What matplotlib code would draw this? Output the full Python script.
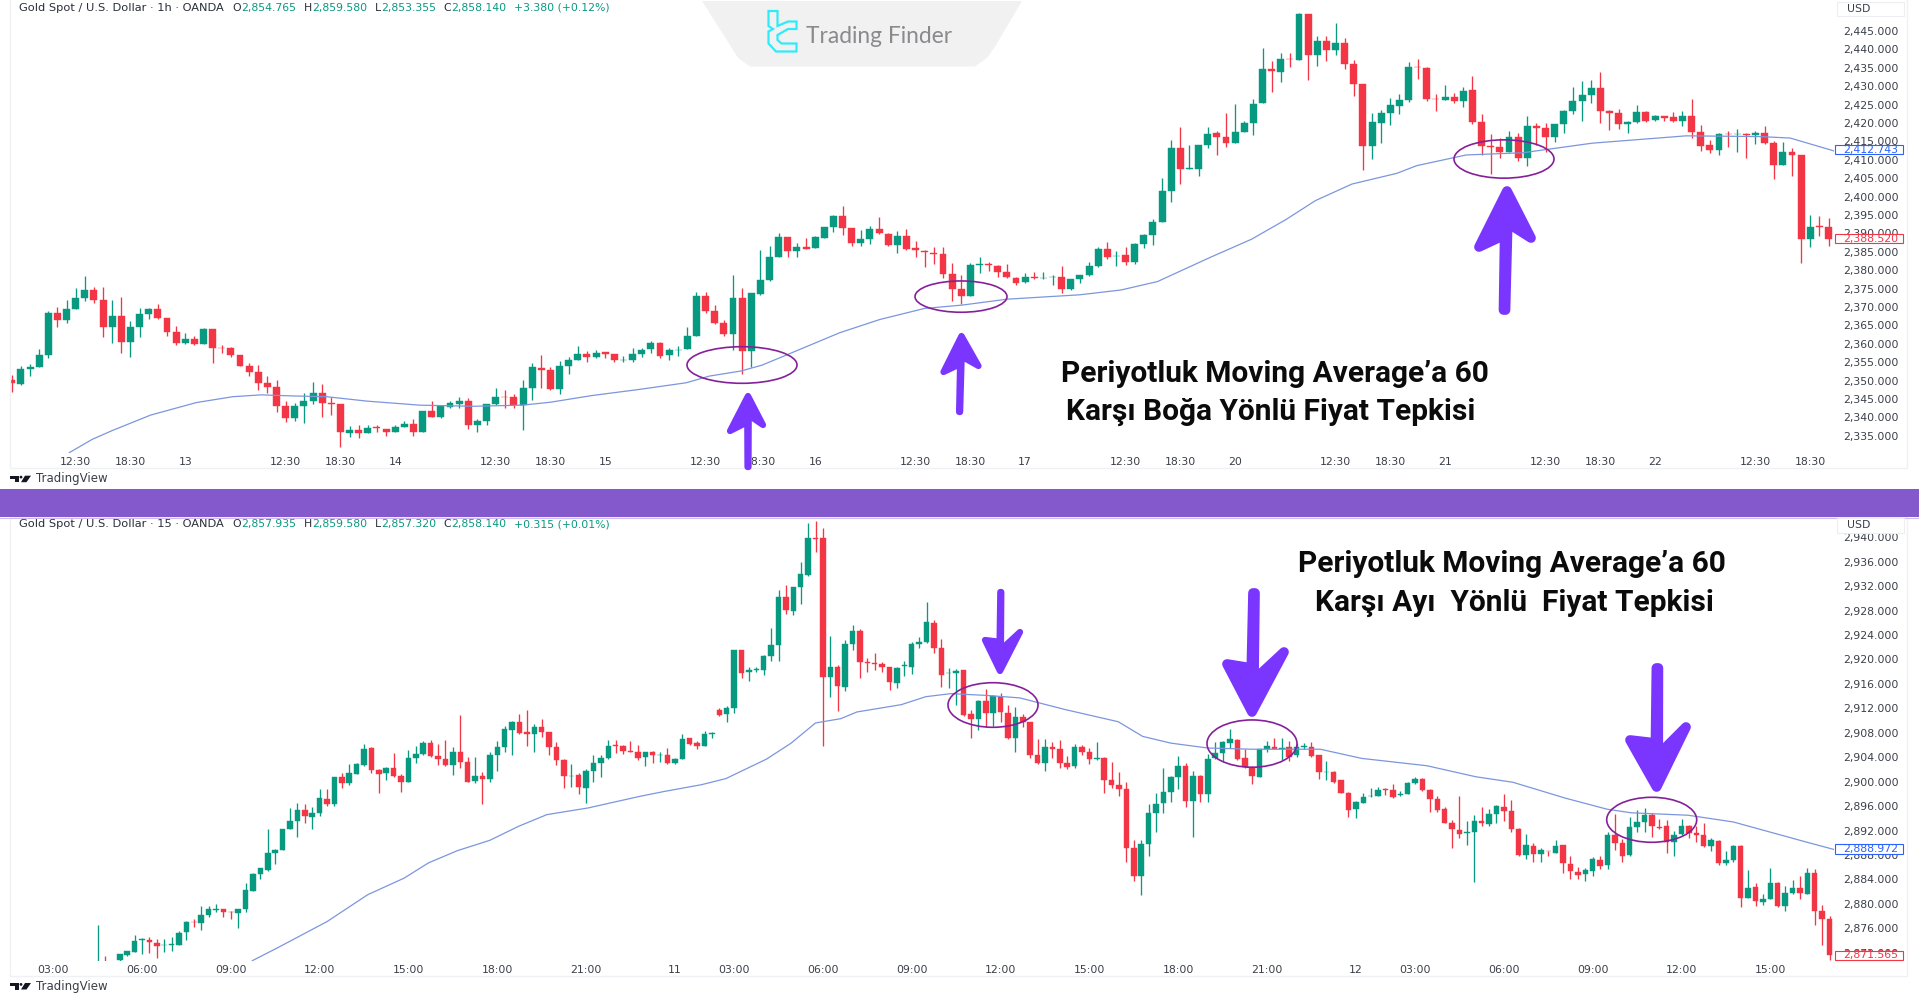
import matplotlib
matplotlib.use("Agg")
import matplotlib.pyplot as plt
from matplotlib.patches import Ellipse, Polygon, Rectangle, Circle

W, H = 1919, 996
GREEN = "#089981"
RED = "#F23645"
MA_COLOR = "#7C96DE"
ARROW = "#7A35FF"
RING = "#86209A"

# 1h chart, read candle by candle off the picture
open_1h = [2350.2,2349.1,2353.1,2353.8,2356.8,2368.4,2366.4,2369.5,2372.4,2374.6,2371.9,2364.6,2367.4,2360.4,2364.6,2368.0,2369.4,2367.1,2363.2,2360.1,
 2361.3,2360.0,2363.9,2358.9,2358.8,2356.9,2354.0,2352.3,2349.4,2348.3,2343.0,2339.8,2343.0,2344.3,2346.7,2343.8,2343.5,2335.8,2336.5,2335.8,
 2337.3,2336.8,2335.9,2337.5,2338.1,2336.0,2341.7,2340.2,2342.8,2343.7,2344.5,2338.0,2338.9,2343.5,2345.6,2345.4,2343.3,2348.0,2353.5,2352.9,
 2347.7,2353.9,2355.6,2357.1,2356.3,2357.7,2357.2,2355.6,2355.6,2357.1,2358.5,2360.1,2356.8,2358.3,2358.5,2362.1,2373.0,2369.0,2365.6,2362.6,
 2372.4,2357.9,2373.5,2377.3,2383.5,2389.0,2385.2,2386.2,2385.9,2388.8,2391.6,2394.7,2391.4,2387.3,2388.4,2391.2,2389.9,2386.8,2389.2,2385.9,
 2385.2,2384.6,2384.4,2379.0,2374.9,2373.1,2381.4,2381.7,2381.2,2379.5,2377.9,2376.7,2378.1,2377.8,2378.1,2378.0,2374.8,2377.7,2378.6,2381.1,
 2385.7,2383.8,2384.0,2382.2,2387.1,2389.6,2393.1,2401.5,2413.1,2407.6,2407.6,2414.0,2417.2,2416.2,2414.5,2417.6,2420.1,2425.3,2434.6,2433.9,
 2437.4,2437.1,2449.5,2438.6,2442.2,2439.9,2441.6,2436.1,2430.6,2413.7,2420.1,2422.7,2424.7,2426.2,2435.3,2435.0,2426.6,2426.3,2427.1,2426.0,
 2428.9,2420.3,2413.7,2413.5,2412.1,2416.2,2410.6,2419.2,2418.6,2416.2,2419.6,2423.3,2426.0,2427.6,2429.5,2423.3,2422.7,2419.8,2420.2,2423.1,
 2420.7,2421.8,2421.5,2420.4,2421.8,2417.6,2413.9,2412.7,2417.1,2417.0,2417.0,2416.8,2417.2,2414.6,2408.6,2412.1,2411.4,2388.4,2391.9,2391.6]
high_1h = [2351.5,2353.9,2354.4,2358.5,2369.0,2370.1,2371.9,2375.2,2378.4,2375.5,2375.5,2371.9,2372.8,2366.1,2369.7,2369.7,2370.7,2367.1,2364.7,2362.9,
 2362.2,2364.2,2363.9,2359.7,2359.2,2356.9,2354.7,2354.2,2351.1,2350.2,2344.3,2343.8,2346.5,2349.5,2349.1,2345.6,2343.5,2337.7,2337.8,2337.8,
 2338.0,2336.8,2338.0,2339.1,2339.5,2341.8,2344.3,2343.2,2344.5,2345.6,2345.2,2339.5,2343.6,2348.0,2347.3,2346.2,2350.2,2354.7,2356.9,2353.6,
 2355.2,2356.3,2359.4,2357.9,2358.3,2357.8,2357.3,2356.7,2358.8,2358.8,2360.8,2360.6,2358.8,2359.4,2364.6,2374.1,2374.1,2370.6,2366.5,2378.8,
 2375.1,2373.7,2385.5,2386.6,2390.0,2389.1,2387.3,2388.7,2389.3,2391.8,2394.9,2397.3,2391.5,2390.9,2392.0,2394.4,2390.2,2390.6,2391.1,2387.8,
 2385.5,2386.4,2386.2,2382.0,2378.8,2382.0,2383.7,2382.2,2381.5,2381.7,2378.2,2379.1,2379.6,2379.5,2378.7,2381.0,2377.7,2378.8,2382.2,2386.2,
 2387.6,2385.3,2386.2,2387.3,2389.8,2393.8,2405.0,2415.4,2419.0,2414.1,2414.1,2419.0,2417.9,2422.6,2425.2,2420.4,2426.4,2440.5,2436.9,2438.9,
 2438.9,2450.0,2449.5,2443.6,2443.6,2447.1,2443.1,2437.1,2430.6,2422.6,2423.5,2426.8,2427.9,2436.6,2437.3,2435.1,2427.9,2430.4,2428.2,2429.7,
 2432.9,2422.4,2417.0,2415.8,2417.8,2417.2,2422.0,2419.9,2420.1,2419.7,2423.5,2429.7,2431.4,2431.7,2433.9,2423.5,2423.7,2420.5,2424.8,2423.2,
 2422.1,2422.0,2423.1,2423.2,2426.4,2419.4,2415.4,2417.2,2417.9,2418.3,2417.4,2417.9,2419.2,2415.2,2414.9,2413.1,2411.4,2395.1,2394.7,2394.2]
low_1h = [2347.0,2348.8,2351.1,2353.8,2356.0,2364.6,2365.7,2369.5,2371.6,2371.2,2361.7,2360.1,2357.6,2356.5,2361.7,2366.7,2366.6,2362.1,2359.6,2359.9,
 2359.7,2359.8,2354.7,2357.6,2356.3,2353.9,2351.1,2347.3,2346.5,2341.5,2338.8,2339.1,2338.4,2343.5,2340.2,2340.6,2332.0,2334.6,2334.5,2335.7,
 2335.9,2335.0,2335.9,2337.4,2334.8,2336.0,2340.0,2339.7,2342.5,2342.5,2336.7,2336.0,2337.8,2343.4,2342.5,2342.4,2336.6,2344.7,2347.9,2347.3,
 2346.3,2351.8,2355.6,2355.0,2356.1,2356.2,2355.0,2354.9,2354.9,2356.5,2357.6,2356.0,2355.6,2356.7,2358.5,2362.1,2368.3,2365.4,2362.0,2358.3,
 2351.8,2353.8,2373.3,2377.1,2383.5,2383.7,2383.7,2385.7,2385.9,2388.7,2390.3,2389.6,2386.6,2386.6,2387.0,2389.8,2386.6,2384.6,2385.5,2383.7,
 2380.8,2381.6,2377.9,2371.5,2370.8,2373.1,2379.1,2379.9,2378.2,2377.8,2376.0,2376.4,2377.6,2377.5,2376.0,2373.9,2374.6,2376.6,2378.4,2380.8,
 2382.9,2381.2,2381.5,2381.7,2385.9,2386.8,2393.1,2398.6,2403.4,2407.4,2405.6,2413.3,2411.3,2413.4,2414.5,2417.6,2416.6,2425.3,2428.5,2431.0,
 2435.1,2437.1,2431.7,2435.5,2436.8,2438.5,2434.6,2427.4,2407.2,2410.3,2414.5,2419.4,2422.4,2425.8,2431.9,2426.1,2423.2,2426.2,2425.3,2424.3,
 2419.6,2411.3,2406.1,2410.6,2412.1,2409.7,2408.4,2414.0,2412.2,2414.9,2417.2,2422.4,2420.4,2425.5,2419.9,2418.1,2418.3,2417.4,2419.9,2420.3,
 2420.6,2420.4,2420.2,2419.3,2415.8,2412.4,2411.9,2411.3,2413.6,2412.2,2410.6,2414.3,2414.2,2404.7,2408.6,2405.7,2382.0,2386.4,2389.3,2386.6]
close_1h = [2349.3,2353.1,2353.8,2356.9,2368.4,2366.4,2369.4,2372.4,2374.6,2371.9,2364.6,2367.4,2360.4,2364.6,2368.0,2369.5,2367.1,2363.3,2360.2,2361.4,
 2360.0,2363.9,2358.9,2358.8,2356.9,2354.0,2352.4,2349.4,2348.3,2343.0,2339.8,2343.0,2344.3,2346.7,2343.8,2343.5,2335.9,2336.6,2335.8,2337.0,
 2337.2,2335.9,2337.4,2338.2,2336.0,2341.7,2340.2,2343.0,2343.8,2344.5,2338.0,2339.0,2343.5,2345.4,2345.5,2343.3,2347.9,2353.6,2352.8,2347.6,
 2353.9,2355.6,2357.2,2356.4,2357.6,2357.3,2355.6,2355.7,2357.1,2358.3,2360.1,2356.7,2358.2,2358.4,2362.0,2373.0,2369.0,2365.6,2362.6,2372.4,
 2357.9,2373.7,2377.3,2383.5,2389.1,2385.1,2386.2,2385.8,2388.9,2391.6,2394.7,2391.5,2387.3,2388.5,2391.2,2390.0,2386.8,2389.2,2385.8,2385.4,
 2384.8,2384.5,2379.0,2375.0,2373.1,2381.3,2381.7,2381.3,2379.5,2378.0,2376.6,2378.1,2377.8,2377.9,2378.2,2374.8,2377.5,2378.6,2381.1,2385.7,
 2383.6,2383.9,2382.2,2387.1,2389.6,2393.1,2401.4,2413.2,2407.6,2407.7,2413.9,2417.1,2416.3,2414.5,2417.6,2420.1,2425.2,2434.6,2434.0,2437.3,
 2437.3,2449.5,2438.6,2442.2,2439.9,2441.6,2436.0,2430.5,2413.7,2420.2,2422.7,2424.8,2426.2,2435.1,2435.2,2426.5,2426.5,2427.1,2426.0,2428.8,
 2420.3,2413.8,2413.6,2412.1,2416.1,2410.6,2419.2,2418.5,2416.2,2419.6,2423.3,2426.0,2427.6,2429.5,2423.3,2422.8,2419.8,2420.3,2423.1,2420.6,
 2421.8,2421.4,2420.4,2421.8,2417.6,2413.8,2412.7,2417.0,2417.0,2417.1,2416.7,2417.2,2414.5,2408.6,2412.1,2411.4,2388.4,2391.8,2391.8,2388.5]

ma_bar_1h = [6.3,8.8,11.0,15.2,20.2,24.2,27.3,30.9,34.5,38.9,44.7,50.5,55.9,59.0,63.5,68.8,73.9,76.4,79.9,82.2,85.3,90.7,95.1,100.0,104.1,109.0,117.0,121.5,125.5,
 131.3,135.8,139.6,142.8,146.8,151.7,153.9,159.3,165.5,173.1,183.4,191.5,194.8,199.6]
ma_1h = [2330.4,2334.0,2336.4,2340.6,2344.0,2345.6,2346.1,2345.8,2345.6,2344.4,2343.3,2343.0,2343.3,2344.1,2345.9,2347.6,2349.4,2351.2,2352.6,2354.2,2357.4,2363.0,2366.6,2369.6,2370.5,2372.1,2373.3,2374.6,2376.9,
 2383.5,2388.4,2393.8,2398.9,2403.4,2406.3,2408.4,2411.3,2411.9,2414.5,2416.5,2416.3,2415.9,2412.4]

ticks_1h = [7,13,19,30,36,42,53,59,65,76,82,88,99,105,111,122,128,134,145,151,157,168,174,180,191,197]
labels_1h = ["12:30","18:30","13","12:30","18:30","14","12:30","18:30","15","12:30","18:30","16","12:30","18:30","17","12:30","18:30","20","12:30","18:30","21","12:30","18:30","22","12:30","18:30"]
prices_1h = list(range(2335, 2450, 5))
ma_last_1h = 2412.743
close_last_1h = 2388.520

# 15m chart
open_15 = [2869.6,2870.2,2869.5,2870.8,2871.7,2872.2,2874.1,2874.1,2873.6,2873.2,2873.3,2873.3,2875.4,2877.1,2876.9,2878.2,2879.0,2879.1,2878.7,2878.5,
 2879.1,2882.1,2884.9,2885.6,2888.4,2888.8,2892.3,2893.6,2895.3,2894.2,2894.9,2897.2,2896.3,2900.8,2899.7,2901.3,2902.8,2905.5,2901.9,2901.4,
 2902.3,2901.0,2900.0,2903.9,2904.5,2906.3,2904.2,2903.7,2902.8,2904.9,2903.2,2900.1,2900.9,2900.5,2904.4,2905.6,2908.5,2909.8,2908.2,2907.8,
 2908.9,2908.1,2905.6,2903.5,2900.9,2901.1,2899.0,2901.7,2903.1,2903.8,2906.0,2905.9,2905.0,2904.9,2904.1,2904.8,2904.3,2904.4,2903.0,2903.7,
 2907.1,2906.3,2905.9,2907.8,2911.8,2911.0,2912.0,2921.5,2917.9,2918.2,2918.3,2920.5,2922.4,2930.2,2928.0,2931.8,2933.8,2939.8,2939.8,2917.1,
 2918.7,2915.5,2922.5,2924.7,2919.5,2919.4,2919.3,2918.8,2916.2,2919.0,2918.8,2922.5,2922.8,2926.0,2921.9,2917.7,2917.8,2918.2,2911.0,2910.2,
 2913.2,2911.3,2913.8,2911.3,2907.2,2910.5,2909.8,2904.3,2903.0,2905.7,2905.4,2903.1,2902.5,2905.6,2904.9,2903.7,2903.8,2900.3,2899.5,2898.8,
 2889.1,2884.6,2889.8,2894.8,2896.5,2898.3,2900.8,2902.6,2896.8,2900.9,2898.0,2903.8,2904.7,2906.3,2906.8,2903.8,2902.3,2900.8,2905.3,2905.6,
 2905.4,2905.6,2904.3,2905.6,2905.7,2904.3,2901.5,2901.6,2900.2,2898.2,2895.5,2896.5,2897.6,2897.7,2898.8,2898.6,2897.8,2897.9,2899.7,2900.4,
 2898.6,2897.2,2895.5,2893.3,2892.1,2891.6,2891.8,2893.6,2893.0,2894.7,2895.8,2895.2,2892.3,2888.0,2889.4,2888.1,2888.7,2888.4,2889.6,2886.6,
 2885.2,2884.9,2885.3,2887.2,2886.3,2891.2,2890.0,2888.0,2892.5,2893.4,2894.6,2892.5,2892.8,2890.2,2891.4,2892.8,2891.6,2891.2,2889.4,2890.3,
 2886.7,2887.1,2889.5,2881.0,2882.7,2880.3,2880.8,2883.4,2879.7,2881.7,2882.6,2881.6,2885.0,2878.8,2877.5]
high_15 = [2876.6,2871.5,2870.3,2871.8,2872.3,2874.9,2874.4,2874.5,2874.3,2874.3,2874.6,2875.6,2877.2,2877.5,2879.6,2879.6,2879.9,2879.1,2878.9,2879.1,
 2883.4,2885.0,2885.9,2892.2,2889.0,2892.3,2895.7,2896.5,2896.4,2895.8,2898.8,2898.8,2900.8,2901.4,2902.9,2903.1,2906.2,2905.7,2902.0,2902.4,
 2904.7,2901.3,2905.2,2905.8,2906.6,2906.8,2906.2,2906.8,2905.6,2910.9,2904.1,2904.0,2901.6,2904.9,2906.7,2909.1,2909.9,2911.1,2911.8,2909.5,
 2910.3,2908.2,2906.5,2903.7,2902.9,2901.4,2902.0,2904.3,2904.4,2906.8,2906.8,2906.0,2906.6,2906.0,2904.9,2905.0,2904.8,2905.5,2903.9,2907.8,
 2907.1,2906.7,2908.3,2908.2,2912.1,2912.4,2921.6,2921.5,2918.8,2918.8,2920.7,2925.1,2931.4,2932.2,2931.9,2936.0,2942.4,2942.7,2941.5,2923.9,
 2919.1,2923.2,2925.7,2924.9,2920.2,2921.0,2919.5,2918.8,2918.7,2919.7,2922.9,2923.7,2929.4,2926.4,2923.4,2918.6,2918.4,2918.3,2911.7,2913.4,
 2915.1,2914.1,2914.5,2912.6,2912.2,2911.0,2909.8,2906.9,2907.0,2906.5,2906.8,2904.2,2906.2,2906.0,2905.5,2906.5,2904.1,2903.2,2901.5,2900.0,
 2890.4,2890.5,2896.3,2898.2,2902.2,2900.9,2904.2,2903.1,2901.8,2901.1,2904.5,2906.5,2906.7,2908.6,2906.9,2905.3,2902.6,2905.4,2906.6,2907.1,
 2907.1,2906.6,2906.3,2906.3,2906.5,2904.4,2903.4,2901.8,2900.3,2898.3,2896.9,2898.1,2898.9,2899.2,2898.9,2899.6,2898.5,2899.9,2900.7,2900.6,
 2898.8,2897.6,2895.8,2893.7,2897.6,2893.6,2894.5,2895.8,2895.5,2896.2,2897.9,2897.0,2892.4,2891.4,2889.9,2889.1,2888.7,2890.4,2889.7,2887.9,
 2886.0,2885.8,2887.6,2887.9,2891.7,2894.7,2890.6,2894.2,2895.4,2895.7,2894.9,2893.9,2893.7,2892.0,2893.9,2892.9,2892.8,2893.3,2890.8,2890.5,
 2888.6,2889.6,2889.6,2885.6,2883.4,2881.6,2885.8,2883.5,2883.0,2883.9,2884.5,2885.8,2885.7,2879.8,2878.0]
low_15 = [2869.0,2869.5,2869.0,2870.7,2871.4,2872.2,2871.8,2871.9,2871.1,2872.2,2872.3,2873.2,2874.1,2876.2,2875.8,2877.8,2878.7,2877.8,2877.5,2876.1,
 2878.7,2882.1,2884.0,2885.4,2886.6,2888.8,2892.2,2891.0,2893.3,2892.2,2894.3,2896.0,2896.0,2899.0,2899.4,2901.3,2902.5,2901.4,2898.1,2900.3,
 2900.8,2898.3,2899.9,2903.1,2904.4,2904.0,2902.7,2902.6,2901.1,2902.3,2899.9,2899.8,2896.3,2899.9,2901.7,2904.8,2904.4,2907.8,2905.9,2904.8,
 2907.3,2904.3,2902.8,2899.0,2899.2,2898.0,2896.5,2900.0,2900.7,2903.7,2904.7,2904.5,2904.8,2903.6,2902.5,2903.1,2903.2,2902.9,2902.9,2903.7,
 2906.0,2905.4,2905.8,2907.1,2910.8,2909.7,2911.3,2917.0,2916.4,2918.0,2917.5,2919.8,2919.7,2927.4,2927.3,2929.1,2933.7,2937.6,2905.9,2913.8,
 2911.6,2914.9,2921.5,2917.0,2918.0,2918.3,2917.9,2915.0,2915.3,2917.3,2917.6,2921.8,2922.7,2921.0,2915.5,2915.3,2912.6,2910.7,2907.2,2908.4,
 2908.9,2909.1,2909.8,2907.0,2904.9,2908.9,2903.8,2902.9,2901.8,2903.8,2902.2,2902.0,2902.2,2904.4,2902.9,2903.6,2898.1,2899.0,2897.7,2886.8,
 2883.7,2881.5,2887.9,2891.7,2894.8,2896.6,2898.8,2895.9,2890.9,2896.6,2896.7,2903.7,2903.3,2905.5,2903.5,2902.2,2899.6,2900.8,2904.8,2905.3,
 2903.5,2903.3,2904.1,2905.3,2904.1,2900.5,2900.3,2899.7,2898.1,2894.2,2894.0,2896.5,2897.5,2897.7,2897.8,2897.3,2897.6,2897.9,2899.6,2898.4,
 2895.1,2895.1,2893.2,2889.2,2890.8,2889.6,2883.5,2892.7,2892.7,2893.3,2893.6,2891.8,2887.9,2887.3,2886.9,2886.8,2887.8,2888.3,2885.1,2884.0,
 2884.0,2883.8,2884.6,2885.7,2885.7,2888.8,2886.8,2887.8,2891.7,2891.7,2890.9,2892.3,2888.4,2887.9,2891.2,2890.7,2890.2,2889.3,2888.7,2886.4,
 2886.3,2886.8,2879.5,2880.9,2879.7,2879.8,2880.8,2879.5,2878.9,2881.6,2880.8,2881.6,2876.5,2873.2,2870.8]
close_15 = [2869.8,2869.9,2869.3,2871.8,2872.3,2873.9,2874.2,2873.7,2873.1,2873.3,2873.4,2875.3,2877.1,2877.0,2878.2,2879.1,2879.1,2878.6,2878.6,2879.1,
 2882.2,2884.9,2885.8,2888.4,2888.8,2892.2,2893.6,2895.4,2894.3,2894.9,2897.3,2896.4,2900.8,2899.7,2901.4,2902.9,2905.4,2901.9,2901.3,2902.2,
 2900.9,2900.0,2903.9,2904.6,2906.4,2904.2,2903.7,2902.8,2904.9,2903.2,2900.0,2900.9,2900.5,2904.4,2905.7,2908.6,2909.8,2908.0,2907.8,2908.9,
 2908.1,2905.7,2903.5,2900.9,2901.0,2899.1,2901.7,2903.1,2903.8,2905.9,2905.9,2905.0,2904.9,2903.9,2904.8,2904.3,2904.4,2903.0,2903.7,2907.0,
 2906.2,2905.9,2907.8,2907.9,2910.9,2912.0,2921.5,2917.7,2918.2,2918.4,2920.6,2922.4,2930.2,2928.1,2931.8,2933.9,2939.8,2939.7,2917.2,2918.7,
 2915.6,2922.5,2924.6,2919.5,2919.4,2919.2,2918.7,2916.3,2918.6,2919.1,2922.5,2922.8,2926.1,2921.9,2917.5,2917.8,2918.1,2910.9,2910.2,2913.2,
 2911.3,2914.0,2911.4,2907.2,2910.5,2909.8,2904.3,2903.0,2905.7,2905.3,2903.0,2902.4,2905.6,2904.9,2903.7,2903.8,2900.3,2899.5,2898.8,2889.2,
 2884.6,2889.8,2894.9,2896.4,2898.3,2900.8,2902.6,2896.8,2900.9,2898.0,2903.7,2904.7,2906.5,2906.9,2903.7,2902.4,2900.9,2905.3,2905.9,2905.4,
 2905.5,2904.1,2905.7,2905.8,2904.2,2901.5,2901.6,2900.0,2898.2,2895.4,2896.6,2897.5,2897.7,2898.7,2898.6,2897.5,2898.0,2899.7,2900.4,2898.6,
 2897.2,2895.4,2893.3,2892.2,2891.5,2891.7,2893.5,2893.2,2894.7,2896.0,2895.2,2892.2,2888.0,2889.6,2888.1,2888.8,2888.6,2889.5,2886.7,2885.3,
 2884.8,2885.5,2887.3,2886.2,2891.2,2890.0,2887.9,2892.6,2893.4,2894.6,2892.8,2892.4,2890.1,2891.3,2892.8,2891.6,2891.3,2889.4,2890.4,2886.7,
 2887.1,2889.5,2881.0,2882.6,2880.4,2880.8,2883.4,2879.7,2881.7,2882.6,2881.7,2885.1,2878.8,2877.5,2871.6]

ma_bar_15 = [20.9,24.3,31.0,36.5,41.4,44.7,48.6,53.0,56.9,60.7,66.3,69.6,73.3,76.6,81.6,84.9,90.4,93.7,97.0,100.4,102.6,108.6,111.9,115.3,120.2,124.6,130.7,137.9,141.2,145.0,150.0,156.1,
 165.2,170.8,179.6,186.2,191.2,198.3,203.9,207.2,214.9,221.0,230.9,234.6]
ma_15 = [2870.7,2872.8,2877.1,2881.5,2884.2,2886.7,2888.7,2890.4,2892.7,2894.6,2895.7,2896.6,2897.6,2898.4,2899.5,2900.5,2903.7,2906.3,2909.6,2910.3,2911.4,2912.6,2913.9,2914.4,2914.1,2913.7,2911.8,2909.8,2907.4,2906.3,2905.5,2905.3,
 2905.3,2903.8,2902.6,2900.8,2899.9,2897.3,2895.5,2894.9,2894.5,2893.4,2890.1,2888.9]

ticks_15 = [-6,6,18,30,42,54,66,78,86,98,110,122,134,146,158,170,178,190,202,214,226]
labels_15 = ["03:00","06:00","09:00","12:00","15:00","18:00","21:00","11","03:00","06:00","09:00","12:00","15:00","18:00","21:00","12","03:00","06:00","09:00","12:00","15:00"]
prices_15 = list(range(2872, 2944, 4))
ma_last_15 = 2888.972
close_last_15 = 2871.565

legend_1h = ["Gold Spot / U.S. Dollar · 1h · OANDA", "2,854.765", "2,859.580", "2,853.355", "2,858.140", "+3.380 (+0.12%)"]
legend_15 = ["Gold Spot / U.S. Dollar · 15 · OANDA", "2,857.935", "2,859.580", "2,857.320", "2,858.140", "+0.315 (+0.01%)"]

LABEL_SIZE = 7.8


def make_axes(fig, left, right, top, bottom):
    ax = fig.add_axes([left / W, 1 - bottom / H, (right - left) / W, (bottom - top) / H])
    for s in ax.spines.values():
        s.set_visible(False)
    ax.patch.set_alpha(0)
    return ax


def draw_candles(ax, o, hi, lo, c, width, wick):
    for i in range(len(o)):
        col = GREEN if c[i] >= o[i] else RED
        ax.vlines(i, lo[i], hi[i], color=col, lw=wick, zorder=2)
        ax.bar(i, abs(c[i] - o[i]), width=width, bottom=min(o[i], c[i]), color=col, edgecolor=col, lw=0.3, zorder=3)


def style_axis(ax, ticks, labels, prices):
    ax.set_xticks(ticks, labels)
    ax.set_yticks(prices, [f"{p:,.3f}" for p in prices])
    ax.yaxis.tick_right()
    ax.tick_params(axis="x", length=0, pad=3, labelsize=LABEL_SIZE, labelcolor="#3a3e48")
    ax.tick_params(axis="y", length=0, pad=6.5, labelsize=LABEL_SIZE, labelcolor="#3a3e48")
    for t in ax.get_yticklabels():
        t.set_ha("left")


def legend_row(ov, y, parts):
    ov.text(19, y, parts[0], fontsize=8.2, color="#2a2e39", va="center")
    for x, key in zip([232, 303.7, 374.7, 443.7], "OHLC"):
        ov.text(x, y, key, fontsize=LABEL_SIZE, color="#2a2e39", va="center")
    for x, val in zip([241, 312, 381.6, 451, 514.3], parts[1:]):
        ov.text(x, y, val, fontsize=LABEL_SIZE, color=GREEN, va="center")


def price_tag(ov, ax, value, color):
    y = H - ax.transData.transform((0, value))[1]
    ov.add_patch(Rectangle((1834.5, y - 4.7), 68.5, 9.4, fc="white", ec=color, lw=0.8, zorder=6))
    ov.text(1843, y, f"{value:,.3f}", fontsize=LABEL_SIZE, color=color, va="center", zorder=7)


def tv_logo(ov, y):
    ov.add_patch(Polygon([(10, y - 3), (19, y - 3), (19, y + 3.5), (15, y + 3.5), (15, y), (10, y)], fc="#131722", ec="none"))
    ov.add_patch(Circle((21, y - 1.6), 1.4, fc="#131722", ec="none"))
    ov.add_patch(Polygon([(25, y - 3), (31, y - 3), (26.5, y + 3.5), (21, y + 3.5)], fc="#131722", ec="none"))
    ov.text(35.5, y, "TradingView", fontsize=8.5, color="#3a3e48", va="center")


# the marker strokes are drawn as one filled outline with rounded corners
def draw_arrow(ov, tip, tail, left, right, half, stroke):
    vx, vy = tail[0] - tip[0], tail[1] - tip[1]
    length = (vx ** 2 + vy ** 2) ** 0.5
    ux, uy = vx / length, vy / length
    nx, ny = (-uy, ux) if -uy > 0 else (uy, -ux)
    notch_l = (tip[0] + vx * 0.37 - nx * half, tip[1] + vy * 0.37 - ny * half)
    notch_r = (tip[0] + vx * 0.27 + nx * half, tip[1] + vy * 0.27 + ny * half)
    end_l = (tail[0] - nx * half * 0.7, tail[1] - ny * half * 0.7)
    end_r = (tail[0] + nx * half * 0.7, tail[1] + ny * half * 0.7)
    ov.add_patch(Polygon([tip, right, notch_r, end_r, end_l, notch_l, left], closed=True, fc=ARROW, ec=ARROW,
                         lw=stroke, joinstyle="round", zorder=8))


plt.rcParams["font.family"] = ["DejaVu Sans"]
fig = plt.figure(figsize=(W / 100, H / 100), dpi=100, facecolor="white")

# upper chart
ax1 = make_axes(fig, 10, 1834, 0, 453)
draw_candles(ax1, open_1h, high_1h, low_1h, close_1h, 0.76, 0.95)
ax1.plot(ma_bar_1h, ma_1h, color=MA_COLOR, lw=0.9, zorder=4)
ax1.set_xlim(-0.197, 199.6)
ax1.set_ylim(2330.3, 2453.42)
style_axis(ax1, ticks_1h, labels_1h, prices_1h)

# lower chart
ax2 = make_axes(fig, 10, 1834, 517, 960.7)
draw_candles(ax2, open_15, high_15, low_15, close_15, 0.74, 0.95)
ax2.plot(ma_bar_15, ma_15, color=MA_COLOR, lw=0.9, zorder=4)
ax2.set_xlim(-11.83, 234.6)
ax2.set_ylim(2870.7, 2943.3)
style_axis(ax2, ticks_15, labels_15, prices_15)

# everything else is placed in picture pixels on a see-through layer
ov = fig.add_axes([0, 0, 1, 1])
ov.set_xlim(0, W)
ov.set_ylim(H, 0)
ov.axis("off")

ov.add_patch(Rectangle((10, -2), 1897, 470, fc="none", ec="#f0f1f4", lw=1))
ov.add_patch(Rectangle((10, 517), 1897, 459, fc="none", ec="#f0f1f4", lw=1))
ov.add_patch(Rectangle((0, 488.5), W, 28.5, fc="#8359CB", ec="none", zorder=5))
ov.plot([0, W], [517.5, 517.5], color="#cbbcec", lw=0.8, zorder=5)

legend_row(ov, 7.5, legend_1h)
legend_row(ov, 524.3, legend_15)

for y_top, y_txt in [(1.6, 9), (518, 525)]:
    ov.add_patch(Rectangle((1837, y_top), 67, 14.5, fc="white", ec="#eceef2", lw=0.8, zorder=5))
    ov.text(1847, y_txt, "USD", fontsize=LABEL_SIZE, color="#3a3e48", va="center", zorder=6)

price_tag(ov, ax1, ma_last_1h, "#2962FF")
price_tag(ov, ax1, close_last_1h, RED)
price_tag(ov, ax2, ma_last_15, "#2962FF")
price_tag(ov, ax2, close_last_15, RED)

tv_logo(ov, 478.7)
tv_logo(ov, 986)

# Trading Finder badge
ov.add_patch(Polygon([(702, 1), (1022, 1), (996, 45), (988, 57), (975, 66.5), (750, 66.5), (738, 58), (730, 45)], fc="#f1f1f2", ec="none"))
logo_outline = [(768.5, 11), (777.5, 11), (777.5, 26), (788, 21.5), (796.5, 21.5), (796.5, 29), (788, 29), (777.5, 35), (777.5, 40),
                (781.5, 43.5), (796.5, 43.5), (796.5, 51.5), (776, 51.5), (768.5, 43.5), (768.5, 31.5), (773, 29), (768.5, 26)]
ov.add_patch(Polygon(logo_outline, closed=True, fc="none", ec="#2FEBFA", lw=1.6, joinstyle="miter"))
ov.text(806.5, 36, "Trading Finder", fontname="Lato", fontweight="normal", fontsize=16.4, color="#8a8a8d", va="center")

# rings around the touches
rings = [(742, 365, 110, 36.6), (961, 296.6, 92, 31.3), (1504, 159, 100, 38.3),
         (993, 705, 90, 44.6), (1252, 743.6, 90, 47.3), (1651.7, 819.8, 90, 45)]
for cx, cy, w, h in rings:
    ov.add_patch(Ellipse((cx, cy), w, h, fc="none", ec=RING, lw=1.2, zorder=7))

draw_arrow(ov, (748, 396), (748, 467), (730, 431), (763, 425), 0.7, 4.5)
draw_arrow(ov, (961.5, 336), (959.6, 412), (943.5, 372), (978.5, 366), 0.7, 4.5)
draw_arrow(ov, (1507, 191), (1504.5, 310), (1479, 247), (1531, 238), 1.4, 7)
draw_arrow(ov, (1000, 671), (1000.8, 592), (985, 640), (1020, 632), 0.7, 4.5)
draw_arrow(ov, (1252, 712), (1254, 593), (1227, 664), (1284, 652), 1.4, 7)
draw_arrow(ov, (1656.6, 787), (1657.4, 668), (1630, 740), (1686, 727), 1.4, 7)

# headings
heading = dict(fontname="Roboto", fontweight="bold", color="#0b0b0b", va="center", ha="left", fontsize=21.5, zorder=8)
ov.text(1061, 374, "Periyotluk Moving Average’a 60", **heading)
ov.text(1066, 412, "Karşı Boğa Yönlü Fiyat Tepkisi", **heading)
ov.text(1298, 564, "Periyotluk Moving Average’a 60", **heading)
ov.text(1315, 602.5, "Karşı Ayı  Yönlü  Fiyat Tepkisi", **heading)

fig.savefig("out.png", dpi=100)
